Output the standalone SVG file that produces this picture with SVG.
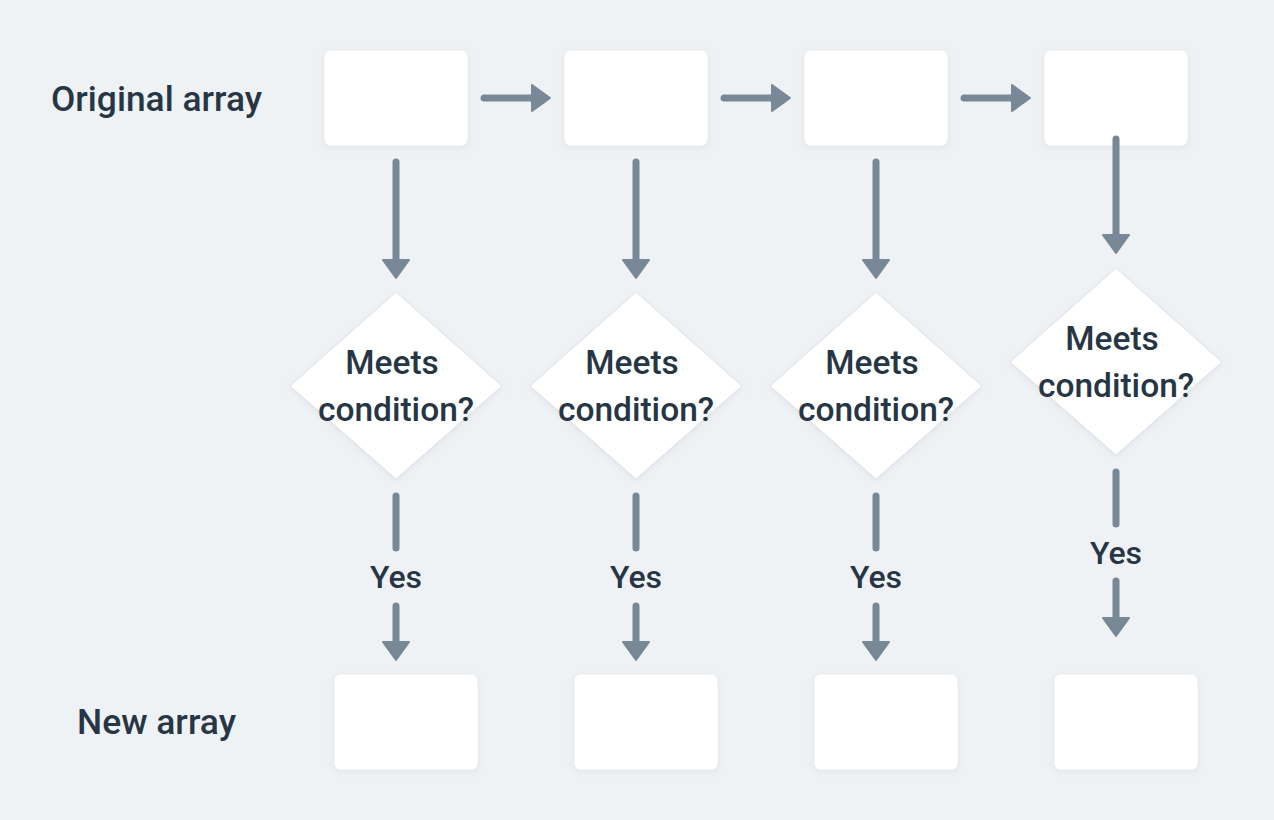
<svg xmlns="http://www.w3.org/2000/svg" width="1274" height="820" viewBox="0 0 1274 820">
<style>
.bg{fill:#eff2f5}
.box{fill:#ffffff;stroke:#e3e7eb;stroke-width:0.6}
.dia{fill:#ffffff;stroke:#d5dadf;stroke-width:0.8;stroke-linejoin:round}
.conn{stroke:#788896;stroke-width:7;stroke-linecap:round;fill:none}
.t{font-family:Roboto,"Noto Sans",sans-serif;font-weight:500;fill:#263645;font-size:33.5px}
.y{font-family:Roboto,"Noto Sans",sans-serif;font-weight:500;fill:#263645;font-size:32px}
.lbl{font-family:Roboto,"Noto Sans",sans-serif;font-weight:500;fill:#263645;font-size:35px}
</style>
<defs>
<marker id="ah" markerUnits="userSpaceOnUse" markerWidth="22" markerHeight="30" viewBox="0 0 22 30" refX="10" refY="15" orient="auto">
<path d="M2,2 L20,15 L2,28 Z" fill="#788896" stroke="#788896" stroke-width="2" stroke-linejoin="round"/>
</marker>
<filter id="sh" x="-20%" y="-20%" width="140%" height="150%">
<feDropShadow dx="0" dy="2" stdDeviation="3" flood-color="#8a97a5" flood-opacity="0.15"/>
</filter>
</defs>
<rect class="bg" x="0" y="0" width="1274" height="820"/>
<g id="label-original"><text class="lbl" x="51" y="111" textLength="211" lengthAdjust="spacingAndGlyphs">Original array</text></g>
<g id="label-new"><text class="lbl" x="77" y="734" textLength="159" lengthAdjust="spacingAndGlyphs">New array</text></g>
<g id="orig1"><rect class="box" filter="url(#sh)" x="324" y="50" width="144" height="96" rx="7"/></g>
<g id="orig2"><rect class="box" filter="url(#sh)" x="564" y="50" width="144" height="96" rx="7"/></g>
<g id="orig3"><rect class="box" filter="url(#sh)" x="804" y="50" width="144" height="96" rx="7"/></g>
<g id="orig4"><rect class="box" filter="url(#sh)" x="1044" y="50" width="144" height="96" rx="7"/></g>
<g id="dec1"><polygon class="dia" filter="url(#sh)" points="396,292 502,386 396,479 290,386"/><text class="t" text-anchor="middle" x="392" y="374">Meets</text><text class="t" text-anchor="middle" x="396" y="421">condition?</text></g>
<g id="dec2"><polygon class="dia" filter="url(#sh)" points="636,292 742,386 636,479 530,386"/><text class="t" text-anchor="middle" x="632" y="374">Meets</text><text class="t" text-anchor="middle" x="636" y="421">condition?</text></g>
<g id="dec3"><polygon class="dia" filter="url(#sh)" points="876,292 982,386 876,479 770,386"/><text class="t" text-anchor="middle" x="872" y="374">Meets</text><text class="t" text-anchor="middle" x="876" y="421">condition?</text></g>
<g id="dec4"><polygon class="dia" filter="url(#sh)" points="1116,268 1222,362 1116,455 1010,362"/><text class="t" text-anchor="middle" x="1112" y="350">Meets</text><text class="t" text-anchor="middle" x="1116" y="397">condition?</text></g>
<g id="new1"><rect class="box" filter="url(#sh)" x="334" y="674" width="144" height="96" rx="7"/></g>
<g id="new2"><rect class="box" filter="url(#sh)" x="574" y="674" width="144" height="96" rx="7"/></g>
<g id="new3"><rect class="box" filter="url(#sh)" x="814" y="674" width="144" height="96" rx="7"/></g>
<g id="new4"><rect class="box" filter="url(#sh)" x="1054" y="674" width="144" height="96" rx="7"/></g>
<g id="connectors">
<line class="conn" x1="484" y1="98" x2="540" y2="98" marker-end="url(#ah)"/>
<line class="conn" x1="724" y1="98" x2="780" y2="98" marker-end="url(#ah)"/>
<line class="conn" x1="964" y1="98" x2="1020" y2="98" marker-end="url(#ah)"/>
<line class="conn" x1="396" y1="162" x2="396" y2="268" marker-end="url(#ah)"/>
<line class="conn" x1="636" y1="162" x2="636" y2="268" marker-end="url(#ah)"/>
<line class="conn" x1="876" y1="162" x2="876" y2="268" marker-end="url(#ah)"/>
<line class="conn" x1="1116" y1="139" x2="1116" y2="243" marker-end="url(#ah)"/>
<line class="conn" x1="396" y1="496" x2="396" y2="548"/>
<line class="conn" x1="636" y1="496" x2="636" y2="548"/>
<line class="conn" x1="876" y1="496" x2="876" y2="548"/>
<line class="conn" x1="1116" y1="472" x2="1116" y2="524"/>
<line class="conn" x1="396" y1="606" x2="396" y2="650" marker-end="url(#ah)"/>
<line class="conn" x1="636" y1="606" x2="636" y2="650" marker-end="url(#ah)"/>
<line class="conn" x1="876" y1="606" x2="876" y2="650" marker-end="url(#ah)"/>
<line class="conn" x1="1116" y1="581" x2="1116" y2="626" marker-end="url(#ah)"/>
<text class="y" text-anchor="middle" x="396" y="588">Yes</text>
<text class="y" text-anchor="middle" x="636" y="588">Yes</text>
<text class="y" text-anchor="middle" x="876" y="588">Yes</text>
<text class="y" text-anchor="middle" x="1116" y="564">Yes</text>
</g>
</svg>
